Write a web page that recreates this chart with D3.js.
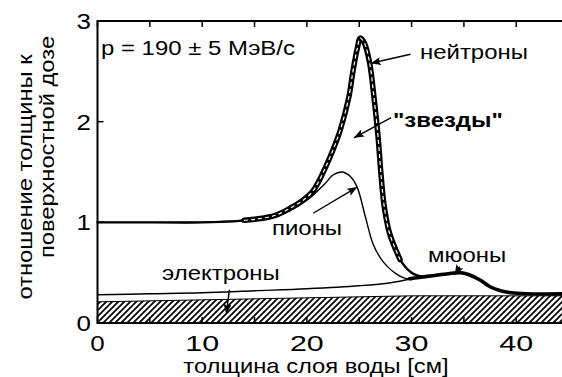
<!DOCTYPE html>
<html><head><meta charset="utf-8">
<script src="https://cdn.jsdelivr.net/npm/d3@7"></script>
<style>
body{margin:0;background:#fff}
svg text{font-family:"Liberation Sans",Arial,Helvetica,sans-serif;fill:#000}
</style></head><body>
<svg id="chart" width="562" height="377"></svg>
<script>
// Depth-dose ratios in water for a 190 MeV/c pion beam
const xTicks = [0, 10, 20, 30, 40];
const yTicks = [0, 1, 2, 3];

const neutronX = [0, 5, 10, 13, 15, 17, 18.4, 19.5, 20.5, 21.1, 21.8, 22.5, 23.2, 24.0, 24.4, 24.8, 25.1, 25.5, 26.0, 26.4, 26.8, 27.1, 27.4, 27.9, 28.9, 30.0, 31.0];
const neutronY = [1.00, 1.00, 1.00, 1.01, 1.03, 1.07, 1.14, 1.21, 1.30, 1.40, 1.55, 1.72, 1.92, 2.24, 2.50, 2.72, 2.83, 2.78, 2.58, 2.25, 1.85, 1.45, 1.15, 0.89, 0.63, 0.50, 0.46];

const starX = [14, 15, 17, 18.4, 19.5, 20.5, 21.1, 21.8, 22.5, 23.2, 24.0, 24.4, 24.8, 25.1, 25.5, 26.0, 26.4, 26.8, 27.1, 27.4, 27.9, 28.9];
const starY = [1.02, 1.03, 1.07, 1.14, 1.21, 1.30, 1.40, 1.55, 1.72, 1.92, 2.24, 2.50, 2.72, 2.83, 2.78, 2.58, 2.25, 1.85, 1.45, 1.15, 0.89, 0.63];

const pionX = [0, 5, 10, 15, 18, 20, 21.0, 21.7, 22.5, 23.4, 24.2, 24.8, 25.6, 26.3, 27.0, 27.7, 28.5, 29.2, 30.0];
const pionY = [1.00, 1.00, 1.00, 1.03, 1.10, 1.22, 1.31, 1.38, 1.47, 1.50, 1.45, 1.35, 1.05, 0.79, 0.65, 0.56, 0.49, 0.45, 0.43];

const muonX = [29.8, 30.5, 32, 33.5, 34.6, 35.5, 36.5, 37.5, 38.5, 39.5, 41, 45];
const muonY = [0.44, 0.45, 0.47, 0.49, 0.50, 0.48, 0.43, 0.36, 0.32, 0.30, 0.29, 0.29];

const electronX = [0, 5, 10, 15, 20, 25, 28, 30];
const electronY = [0.28, 0.29, 0.30, 0.32, 0.34, 0.37, 0.40, 0.44];

// upper edge of the hatched background band
const bandX = [0, 30, 45];
const bandY = [0.21, 0.27, 0.27];

const svg = d3.select("#chart");
const x = d3.scaleLinear().domain([0, 45]).range([97.5, 568.6]);
const y = d3.scaleLinear().domain([0, 3]).range([323, 21]);

const zip = (xs, ys) => xs.map((v, i) => [v, ys[i]]);
const line = d3.line().x(d => x(d[0])).y(d => y(d[1])).curve(d3.curveCatmullRom.alpha(0.5));

const defs = svg.append("defs");
defs.append("pattern").attr("id", "hatch").attr("patternUnits", "userSpaceOnUse")
  .attr("width", 6).attr("height", 6)
  .append("path").attr("d", "M-1,1 l2,-2 M0,6 l6,-6 M5,7 l2,-2")
  .attr("stroke", "#000").attr("stroke-width", 1.7);
defs.append("marker").attr("id", "arrow").attr("markerUnits", "userSpaceOnUse")
  .attr("markerWidth", 11).attr("markerHeight", 8).attr("refX", 10).attr("refY", 4)
  .attr("orient", "auto")
  .append("path").attr("d", "M0,0 L10,4 L0,8 L2,4 z").attr("fill", "#000");

// hatched band
const band = zip(bandX, bandY);
svg.append("path")
  .attr("d", d3.area().x(d => x(d[0])).y0(y(0)).y1(d => y(d[1]))(band))
  .attr("fill", "url(#hatch)");
svg.append("path").attr("d", d3.line().x(d => x(d[0])).y(d => y(d[1]))(band))
  .attr("fill", "none").attr("stroke", "#000").attr("stroke-width", 1);

// frame and ticks
const g = svg.append("g").attr("stroke", "#000").attr("fill", "none");
g.append("path").attr("d", `M${x(45)},${y(3)} H${x(0)} V${y(0)} H${x(45)}`).attr("stroke-width", 2);
g.selectAll(".tt").data(d3.range(0, 46, 5)).join("line")
  .attr("x1", d => x(d)).attr("x2", d => x(d)).attr("y1", y(3)).attr("y2", y(3) + 6).attr("stroke-width", 1.5);
g.selectAll(".bt").data(d3.range(0, 46, 5)).join("line")
  .attr("x1", d => x(d)).attr("x2", d => x(d)).attr("y1", y(0)).attr("y2", y(0) - 6).attr("stroke-width", 1.5);
g.selectAll(".lt").data([1, 2]).join("line")
  .attr("x1", x(0)).attr("x2", x(0) + 6).attr("y1", d => y(d)).attr("y2", d => y(d)).attr("stroke-width", 1.5);

// curves
const curves = svg.append("g").attr("fill", "none").attr("stroke", "#000")
  .attr("stroke-linejoin", "round").attr("stroke-linecap", "round");
curves.append("path").attr("d", line(zip(electronX, electronY))).attr("stroke-width", 1.4);
curves.append("path").attr("d", line(zip(pionX, pionY))).attr("stroke-width", 1.4);
curves.append("path").attr("d", line(zip(muonX, muonY))).attr("stroke-width", 3.6);
curves.append("path").attr("d", line(zip(neutronX, neutronY))).attr("stroke-width", 2.4);
curves.append("path").attr("d", line(zip(starX, starY))).attr("stroke-width", 5.5);
curves.append("path").attr("d", line(zip(starX, starY))).attr("stroke", "#fff")
  .attr("stroke-width", 1.2).attr("stroke-dasharray", "4,3").attr("stroke-linecap", "butt");

// arrows pointing from the labels to their curves
const arrowFrom = [[29.9, 2.67], [28.05, 2.04], [20.6, 1.09], [34.6, 0.56], [12.6, 0.33]];
const arrowTo   = [[26.1, 2.58], [24.5, 1.84], [24.8, 1.35], [34.1, 0.48], [12.3, 0.09]];
svg.append("g").selectAll("line").data(arrowFrom).join("line")
  .attr("x1", d => x(d[0])).attr("y1", d => y(d[1]))
  .attr("x2", (d, i) => x(arrowTo[i][0])).attr("y2", (d, i) => y(arrowTo[i][1]))
  .attr("stroke", "#000").attr("stroke-width", 1.4).attr("marker-end", "url(#arrow)");

// widen glyphs a little: the lettering is a broad grotesque
function widen(sel, k, extra) {
  sel.each(function () {
    const w = this.getComputedTextLength();
    const n = this.textContent.length;
    d3.select(this).attr("textLength", w * k + (n - 1) * (extra || 0))
      .attr("lengthAdjust", "spacingAndGlyphs");
  });
}

// tick labels
const fs = 21;
const yl = svg.append("g").selectAll("text").data(yTicks).join("text")
  .attr("x", 91).attr("y", d => y(d) + 8).attr("text-anchor", "end")
  .attr("font-size", 22).text(d => d);
const xl = svg.append("g").selectAll("text").data(xTicks).join("text")
  .attr("x", d => x(d)).attr("y", 351).attr("text-anchor", "middle")
  .attr("font-size", 22).text(d => d);
widen(yl, 1.18);
widen(xl, 1.18, 5);

// axis titles
const titles = svg.append("g");
titles.append("text").attr("x", 316).attr("y", 373).attr("text-anchor", "middle")
  .attr("font-size", fs).text("толщина слоя воды [см]");
titles.append("text").attr("transform", "translate(32,177) rotate(-90)").attr("text-anchor", "middle")
  .attr("font-size", fs).text("отношение толщины к");
titles.append("text").attr("transform", "translate(54,147) rotate(-90)").attr("text-anchor", "middle")
  .attr("font-size", fs).text("поверхностной дозе");
widen(titles.selectAll("text"), 1.13);

// annotations
const labels = [
  {t: "p = 190 ± 5 МэВ/с", x: 101, y: 55, w: "normal"},
  {t: "нейтроны", x: 420, y: 59, w: "normal"},
  {t: "\"звезды\"", x: 393, y: 127, w: "bold"},
  {t: "пионы", x: 272, y: 235, w: "normal"},
  {t: "мюоны", x: 428, y: 262, w: "normal"},
  {t: "электроны", x: 162, y: 280, w: "normal"}
];
const ann = svg.append("g").selectAll("text").data(labels).join("text")
  .attr("x", d => d.x).attr("y", d => d.y).attr("font-size", fs)
  .attr("font-weight", d => d.w).text(d => d.t);
widen(ann, 1.14);
</script>
</body></html>
